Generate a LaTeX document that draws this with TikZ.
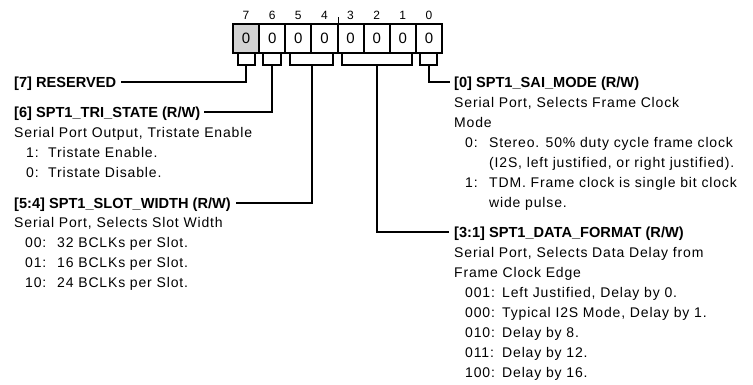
\documentclass[tikz,border=0pt]{standalone}
\usepackage{fontspec}
\setmainfont{Liberation Sans}
\newfontfamily\bodyfont[LetterSpace=6]{Liberation Sans}
\usetikzlibrary{calc}
\definecolor{resgray}{HTML}{D3D3D3}
\begin{document}
\begin{tikzpicture}[x=1pt,y=-1pt,
  txt/.style={anchor=west,inner sep=0pt,text height=10pt,text depth=0pt,font=\bodyfont\fontsize{14}{20}\selectfont},
  hdr/.style={txt,font=\fontsize{14.6}{20}\selectfont\bfseries},
  cell/.style={draw,line width=2pt,minimum width=26.125pt,minimum height=29pt,inner sep=0pt,anchor=north west,font=\fontsize{15}{18}\selectfont},
  bitnum/.style={inner sep=0pt,font=\fontsize{12}{14}\selectfont},
  conn/.style={line width=2pt},
]
\useasboundingbox (0,0) rectangle (753,384);
% register cells
\foreach \i in {0,...,7}{
  \pgfmathsetmacro{\xx}{232+(7-\i)*26.125}
  \ifnum\i=7
    \node[cell,fill=resgray] (b\i) at (\xx,23) {0};
  \else
    \node[cell] (b\i) at (\xx,23) {0};
  \fi
  \node[bitnum] (n\i) at ($(b\i.north)+(0,-8)$) {\i};
}
\draw[line width=1pt] (b4.north east) -- ++(0,-6);
% brackets
\draw[conn] ([xshift=6pt]b7.south west) -- ++(0,11) -| ([xshift=-5pt]b7.south east);
\draw[conn] ([xshift=5pt]b6.south west) -- ++(0,11) -| ([xshift=-5pt]b6.south east);
\draw[conn] ([xshift=6pt]b5.south west) -- ++(0,11) -| ([xshift=-6pt]b4.south east);
\draw[conn] ([xshift=5pt]b3.south west) -- ++(0,11) -| ([xshift=-5pt]b1.south east);
\draw[conn] ([xshift=5pt]b0.south west) -- ++(0,11) -| ([xshift=-6pt]b0.south east);
\coordinate (k7) at ($(b7.south)+(0,11)$);
\coordinate (k6) at ($(b6.south)+(0,11)$);
\coordinate (k54) at ($(b5.south east)+(0,11)$);
\coordinate (k31) at ($(b2.south)+(0,11)$);
\coordinate (k0) at ($(b0.south)+(0,11)$);
% left texts
\node[hdr] (h7) at (14,82) {[7] RESERVED};
\node[hdr] (h6) at (14,112) {[6] SPT1\_TRI\_STATE (R/W)};
\node[txt] (d6) at (14,132) {Serial Port Output, Tristate Enable};
\node[txt] (v61) at (26,152) {1:};
\node[txt] (t61) at (48,152) {Tristate Enable.};
\node[txt] (v60) at (26,172) {0:};
\node[txt] (t60) at (48,172) {Tristate Disable.};
\node[hdr] (h54) at (14,203) {[5:4] SPT1\_SLOT\_WIDTH (R/W)};
\node[txt] (d54) at (14,222) {Serial Port, Selects Slot Width};
\node[txt] (v5400) at (25,242) {00:};
\node[txt] (t5400) at (57,242) {32 BCLKs per Slot.};
\node[txt] (v5401) at (25,262) {01:};
\node[txt] (t5401) at (57,262) {16 BCLKs per Slot.};
\node[txt] (v5410) at (25,282) {10:};
\node[txt] (t5410) at (57,282) {24 BCLKs per Slot.};
% right texts
\node[hdr] (h0) at (454,82) {[0] SPT1\_SAI\_MODE (R/W)};
\node[txt] (d0a) at (454,102) {Serial Port, Selects Frame Clock};
\node[txt] (d0b) at (454,122) {Mode};
\node[txt] (v00) at (465,142) {0:};
\node[txt] (t00a) at (489,142) {Stereo. 50\% duty cycle frame clock};
\node[txt] (t00b) at (489,162) {(I2S, left justified, or right justified).};
\node[txt] (v01) at (465,182) {1:};
\node[txt] (t01a) at (489,182) {TDM. Frame clock is single bit clock};
\node[txt] (t01b) at (489,202) {wide pulse.};
\node[hdr] (h31) at (454,232) {[3:1] SPT1\_DATA\_FORMAT (R/W)};
\node[txt] (d31a) at (454,252) {Serial Port, Selects Data Delay from};
\node[txt] (d31b) at (454,272) {Frame Clock Edge};
\node[txt] (v1) at (465,292) {001:};
\node[txt] (t1) at (502,292) {Left Justified, Delay by 0.};
\node[txt] (v2) at (465,312) {000:};
\node[txt] (t2) at (502,312) {Typical I2S Mode, Delay by 1.};
\node[txt] (v3) at (465,332) {010:};
\node[txt] (t3) at (502,332) {Delay by 8.};
\node[txt] (v4) at (465,352) {011:};
\node[txt] (t4) at (502,352) {Delay by 12.};
\node[txt] (v5) at (465,372) {100:};
\node[txt] (t5) at (502,372) {Delay by 16.};
% connectors
\draw[conn] (k7) |- ([xshift=5pt]h7.east);
\draw[conn] (k6) |- ([xshift=4pt]h6.east);
\draw[conn] (k54) |- ([xshift=5pt]h54.east);
\draw[conn] (k31) |- ([xshift=-5pt]h31.west);
\draw[conn] (k0) |- ([xshift=-4pt]h0.west);
\end{tikzpicture}
\end{document}
